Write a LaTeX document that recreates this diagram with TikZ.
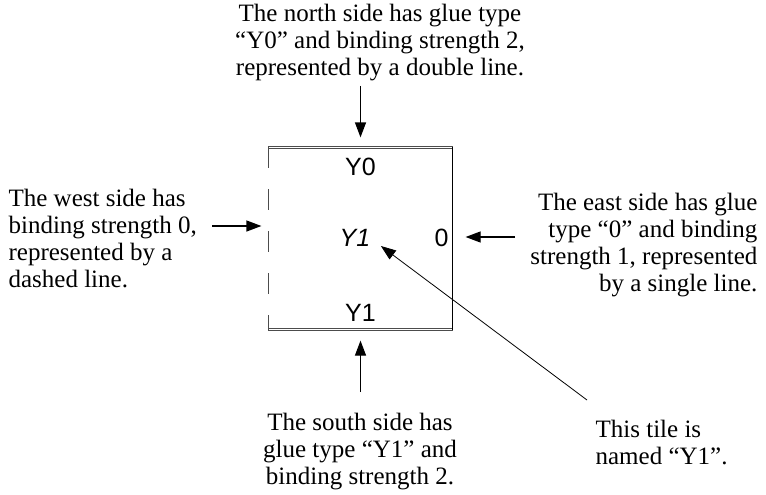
\documentclass[tikz,border=0pt]{standalone}
\usepackage{fontspec}
\setmainfont{Liberation Serif}
\setsansfont{Liberation Sans}
\usetikzlibrary{arrows.meta}

\begin{document}
\begin{tikzpicture}[x=1pt,y=-1pt,line width=1.2pt,
  pointer/.style={-{Triangle[length=15pt,width=11pt]}},
  note/.style={inner sep=0pt,font=\fontsize{25}{27}\selectfont},
  glue/.style={inner sep=0pt,anchor=base,font=\fontsize{25}{27}\sffamily},
  strong/.style={double,double distance=1.4pt,line width=0.9pt,draw=black!70}]
  \useasboundingbox (0,0) rectangle (766,495);
  % the tile
  \node[minimum width=183pt,minimum height=181pt,inner sep=0pt] (tile) at (360.5,238.5) {};
  \draw[strong] (tile.north west) -- (tile.north east);
  \draw[strong] (tile.south west) -- (tile.south east);
  \draw (tile.north east) -- (tile.south east);
  \draw[black!70,dash pattern=on 21pt off 21pt] (tile.north west) -- (tile.south west);
  % glue labels and name
  \node[glue] (gnorth) at (360.5,175) {Y0};
  \node[glue] (gsouth) at (360.5,321) {Y1};
  \node[glue] (geast) at (441.5,246) {0};
  \node[glue,font=\fontsize{25}{27}\sffamily\itshape] (tilename) at (355,246) {Y1};
  % notes
  \node[note,anchor=north,align=center] (nnorth) at (380,4)
    {The north side has glue type\\``Y0'' and binding strength 2,\\represented by a double line.};
  \node[note,anchor=north west,align=left] (nwest) at (8,189)
    {The west side has\\binding strength 0,\\represented by a\\dashed line.};
  \node[note,anchor=north east,align=right] (neast) at (758,193)
    {The east side has glue\\type ``0'' and binding\\strength 1, represented\\by a single line.};
  \node[note,anchor=north,align=center] (nsouth) at (360,413)
    {The south side has\\glue type ``Y1'' and\\binding strength 2.};
  \node[note,anchor=north west,align=left] (nname) at (595,420)
    {This tile is\\named ``Y1''.};
  % arrows
  \coordinate (tnorth) at (360.5,86);
  \coordinate (twest) at (212,226);
  \coordinate (teast) at (515,237);
  \coordinate (tsouth) at (360.5,392);
  \coordinate (tname) at (587,400);
  \draw[pointer] (tnorth) -- ([yshift=10pt]tile.north);
  \draw[pointer] (tsouth) -- ([yshift=-11pt]tile.south);
  \draw[pointer] (twest) -- ([xshift=-7pt]twest -| tile.west);
  \draw[pointer] (teast) -- ([xshift=13pt]teast -| tile.east);
  \draw[pointer,line width=0.8pt] (tname) -- ([xshift=10pt]tilename.base east);
\end{tikzpicture}
\end{document}
